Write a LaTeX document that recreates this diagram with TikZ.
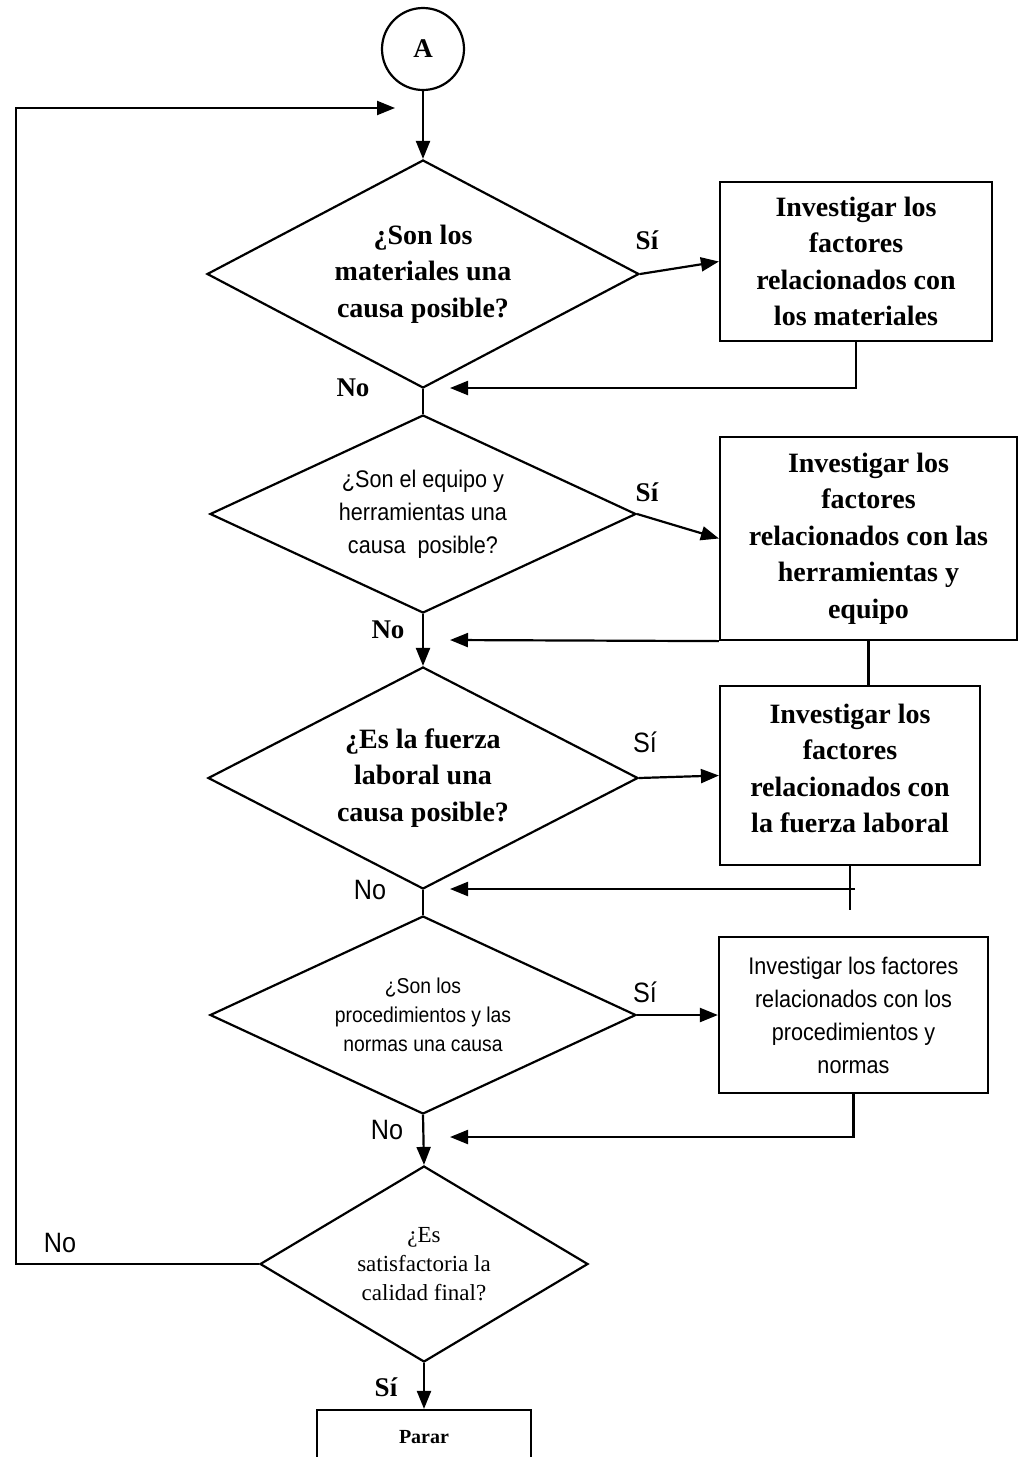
\documentclass[tikz,border=0pt]{standalone}
\usepackage{fontspec}
\setmainfont{Liberation Serif}
\newfontfamily\narrowsans[FakeStretch=0.9]{Liberation Sans}
\usetikzlibrary{shapes.geometric,arrows.meta}

\begin{document}
\begin{tikzpicture}[x=1pt,y=-1pt,
  conn/.style={line width=2.2pt},
  arr/.style={conn,-{Triangle[length=18pt,width=14pt]}},
  dec/.style={draw,diamond,inner sep=0pt,line width=2.2pt,align=center},
  proc/.style={draw,rectangle,inner sep=0pt,line width=2.2pt,align=center},
  serifb/.style={font=\bfseries\fontsize{28}{36.5}\selectfont},
  serifr/.style={font=\fontsize{23}{29}\selectfont},
  sansbig/.style={font=\narrowsans\fontsize{24}{33}\selectfont},
  sanssmall/.style={font=\narrowsans\fontsize{21.5}{29}\selectfont},
  lblserif/.style={font=\bfseries\fontsize{27}{30}\selectfont},
  lblsans/.style={font=\narrowsans\fontsize{28}{30}\selectfont}]

\useasboundingbox[fill=white] (0,0) rectangle (1021,1457);

% connector node A
\node[draw,circle,minimum size=82pt,inner sep=0pt,line width=2.2pt,
      font=\bfseries\fontsize{27}{27}\selectfont] (A) at (423,49) {A};

% decisions
\node[dec,serifb,aspect=1.9,minimum width=432pt,minimum height=228pt] (d1) at (423,274)
  {¿Son los\\materiales una\\causa posible?};
\node[dec,sansbig,aspect=2.15,minimum width=426pt,minimum height=198pt] (d2) at (423,514)
  {¿Son el equipo y\\herramientas una\\causa \ posible?};
\node[dec,serifb,aspect=1.94,minimum width=430pt,minimum height=222pt] (d3) at (423,778)
  {¿Es la fuerza\\laboral una\\causa posible?};
\node[dec,sanssmall,aspect=2.15,minimum width=426pt,minimum height=198pt] (d4) at (423,1015)
  {¿Son los\\procedimientos y las\\normas una causa};
\node[dec,serifr,aspect=1.67,minimum width=328pt,minimum height=196pt] (d5) at (424,1264)
  {¿Es\\satisfactoria la\\calidad final?};

% actions
\node[proc,serifb,minimum width=272pt,minimum height=159pt] (b1) at (856,261.5)
  {Investigar los\\factores\\relacionados con\\los materiales};
\node[proc,serifb,minimum width=297pt,minimum height=203pt] (b2) at (868.5,538.5)
  {Investigar los\\factores\\relacionados con las\\herramientas y\\equipo};
\node[proc,serifb,minimum width=260pt,minimum height=179pt] (b3) at (850,775.5)
  {Investigar los\\factores\\relacionados con\\la fuerza laboral\\[-22.5pt]};
\node[proc,sansbig,minimum width=269pt,minimum height=156pt] (b4) at (853.5,1015)
  {Investigar los factores\\relacionados con los\\procedimientos y\\normas};
\node[proc,font=\bfseries\fontsize{20}{20}\selectfont,minimum width=214pt,minimum height=54pt] (stop) at (424,1437)
  {Parar};

% return points on the main line
\coordinate (r1) at (450,388);
\coordinate (r2) at (450,640);
\coordinate (r3) at (450,889);
\coordinate (r4) at (450,1137);
\coordinate (t3) at (850,910);
\coordinate (loopc) at (16,108);
\coordinate (looptip) at (395,108);

% main flow
\draw[arr] (A) -- (d1.north);
\draw[conn] (d1.south) -- (d2.north);
\draw[arr] (d2.south) -- (d3.north);
\draw[conn] (d3.south) -- (d4.north);
\draw[arr] (d4.south) -- (d5.north);
\draw[arr] (d5.south) -- (stop.north);

% yes branches
\draw[arr] (d1.east) -- (b1.west);
\draw[arr] (d2.east) -- (b2.west);
\draw[arr] (d3.east) -- (b3.west);
\draw[arr] (d4.east) -- (b4.west);

% returns
\draw[arr] (b1.south) |- (r1);
\draw[arr] (b2.south west) -- (r2);
\draw[conn] (b2.south) -- (b2.south |- b3.north);
\draw[conn] (b3.south) -- (t3);
\draw[arr] ([xshift=5pt]b3.south |- r3) -- (r3);
\draw[arr] (b4.south) |- (r4);

% loop back to the start
\draw[arr] (d5.west) -- (d5.west -| loopc) -- (loopc) -- (looptip);

% labels
\node[lblserif] (s1) at (647,240) {Sí};
\node[lblserif] (s2) at (647,492) {Sí};
\node[lblsans] (s3) at (645,742) {Sí};
\node[lblsans] (s4) at (645,992) {Sí};
\node[lblserif] (s5) at (386,1387) {Sí};
\node[lblserif] (n1) at (353,388) {No};
\node[lblserif] (n2) at (388,630) {No};
\node[lblsans] (n3) at (370,890) {No};
\node[lblsans] (n4) at (387,1130) {No};
\node[lblsans] (n5) at (60,1243) {No};

\end{tikzpicture}
\end{document}
